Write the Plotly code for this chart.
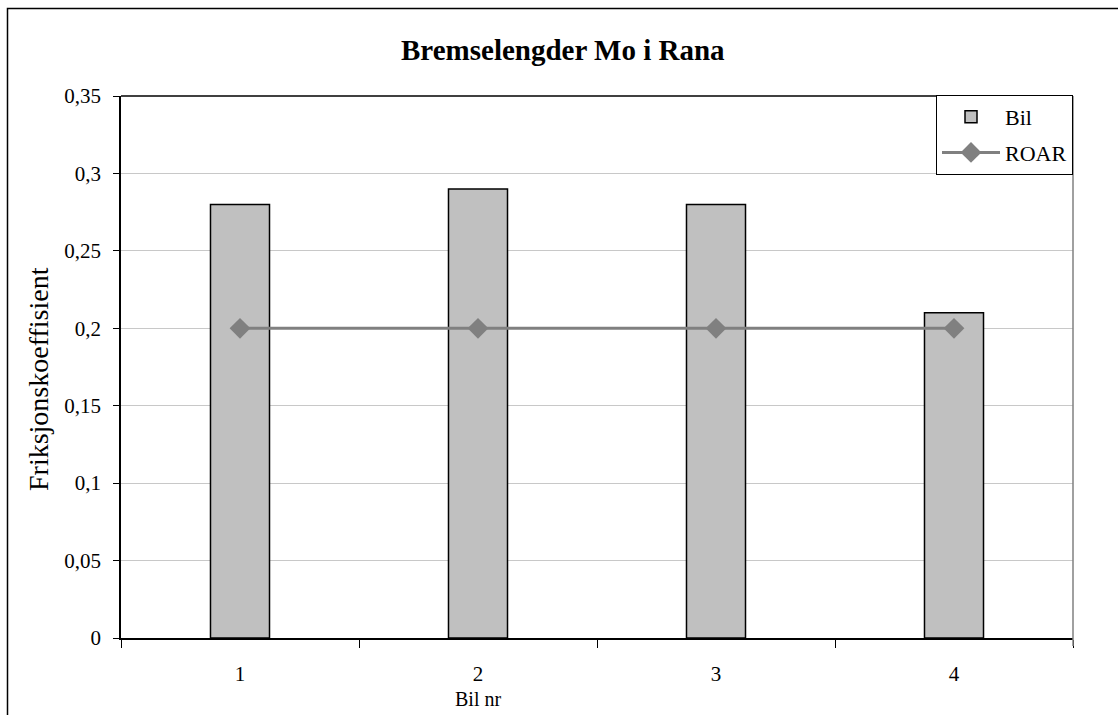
import plotly.graph_objects as go

categories = ["1", "2", "3", "4"]
bil_values = [0.28, 0.29, 0.28, 0.21]
roar_values = [0.2, 0.2, 0.2, 0.2]
y_tickvals = [0, 0.05, 0.1, 0.15, 0.2, 0.25, 0.3, 0.35]
y_ticktext = ["0", "0,05", "0,1", "0,15", "0,2", "0,25", "0,3", "0,35"]

W, H = 1118, 715
L, R, T, B = 121, 1073, 96, 638
pw, ph = R - L, B - T

def px(x):
    return (x - L) / pw

def py(y):
    return (B - y) / ph

FONT = "Liberation Serif, Times New Roman, serif"

fig = go.Figure()
fig.add_trace(go.Bar(
    x=categories, y=bil_values, name="Bil",
    marker=dict(color="#C0C0C0", line=dict(color="black", width=1.5)),
    legendgroup="a",
))
fig.add_trace(go.Scatter(
    x=categories, y=roar_values, name="ROAR", mode="lines+markers",
    line=dict(color="#808080", width=3),
    marker=dict(symbol="diamond", size=16, color="#808080"),
    legendgroup="b",
))

fig.update_layout(
    width=W, height=H,
    margin=dict(l=L, r=W - R, t=T, b=H - B),
    paper_bgcolor="white", plot_bgcolor="white",
    font=dict(family=FONT, size=21, color="black"),
    bargap=0.752,
    showlegend=True,
    legend=dict(
        x=1, y=py(95), xanchor="right", yanchor="top",
        bgcolor="white", bordercolor="black", borderwidth=1,
        font=dict(family=FONT, size=22, color="black"),
        itemwidth=58, traceorder="grouped", tracegroupgap=4,
    ),
    xaxis=dict(
        type="category", range=[-0.5, 3.5],
        tickson="boundaries", ticks="outside", ticklen=8, tickcolor="black",
        showline=True, linecolor="black", linewidth=1.5,
        showgrid=False, zeroline=False, ticklabelstandoff=16,
        tickfont=dict(family=FONT, size=21, color="black"),
    ),
    yaxis=dict(
        range=[0, 0.35], tickvals=y_tickvals, ticktext=y_ticktext,
        ticks="outside", ticklen=6, tickcolor="black",
        showline=True, linecolor="black", linewidth=1.5,
        showgrid=True, gridcolor="#C8C8C8", gridwidth=1, zeroline=False,
        ticklabelstandoff=8,
        tickfont=dict(family=FONT, size=21, color="black"),
    ),
    annotations=[
        dict(text="<b>Bremselengder Mo i Rana</b>", xref="paper", yref="paper",
             x=px(563), y=py(50), xanchor="center", yanchor="middle",
             showarrow=False, font=dict(family=FONT, size=29, color="black")),
        dict(text="Bil nr", xref="paper", yref="paper",
             x=px(478), y=py(699), xanchor="center", yanchor="middle",
             showarrow=False, font=dict(family=FONT, size=20, color="black")),
        dict(text="Friksjonskoeffisient", xref="paper", yref="paper",
             x=px(39), y=py(379), xanchor="center", yanchor="middle", textangle=-90,
             showarrow=False, font=dict(family=FONT, size=28, color="black")),
    ],
    shapes=[
        dict(type="rect", xref="paper", yref="paper",
             x0=px(7.5), x1=px(1130), y0=py(8.5), y1=py(730),
             line=dict(color="black", width=1.5), layer="below"),
        dict(type="line", xref="paper", yref="paper",
             x0=0, x1=1, y0=1, y1=1, line=dict(color="black", width=1.5)),
        dict(type="line", xref="paper", yref="paper",
             x0=1, x1=1, y0=py(646), y1=1, line=dict(color="#808080", width=1.5)),
    ],
)

fig.write_html("out.html")
